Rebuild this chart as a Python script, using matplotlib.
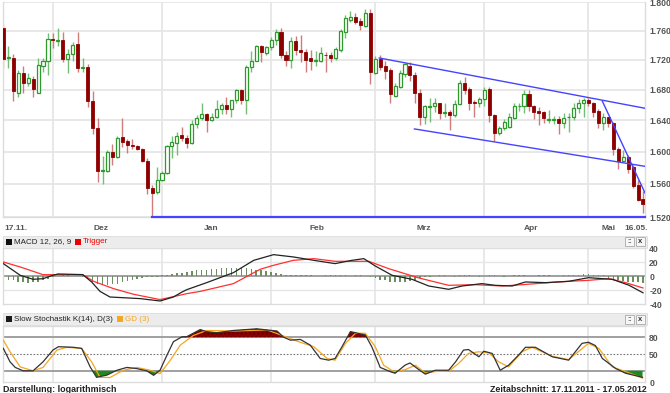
import numpy as np
import pandas as pd
import matplotlib
matplotlib.use("Agg")
import matplotlib.pyplot as plt
from matplotlib.patches import Rectangle
from matplotlib.ticker import FixedLocator, NullLocator, FixedFormatter

plt.rcParams["font.family"] = ["Liberation Sans", "DejaVu Sans"]

# daily candles, 17.11.2011 - 16.05.2012 (weekdays only)
dates = pd.bdate_range("2011-11-17", "2012-05-16")

opens = [1.763, 1.722, 1.723, 1.676, 1.702, 1.689, 1.694, 1.676, 1.712, 1.718,
         1.749, 1.746, 1.747, 1.721, 1.728, 1.741, 1.709, 1.710, 1.665, 1.630,
         1.576, 1.576, 1.600, 1.593, 1.619, 1.613, 1.608, 1.607, 1.603, 1.589,
         1.555, 1.550, 1.565, 1.573, 1.607, 1.611, 1.621, 1.617, 1.611, 1.635,
         1.643, 1.648, 1.640, 1.644, 1.655, 1.660, 1.655, 1.666, 1.679, 1.666,
         1.710, 1.719, 1.739, 1.729, 1.737, 1.747, 1.758, 1.726, 1.720, 1.745,
         1.734, 1.731, 1.722, 1.719, 1.719, 1.727, 1.727, 1.722, 1.734, 1.758,
         1.775, 1.779, 1.773, 1.767, 1.785, 1.702, 1.721, 1.711, 1.706, 1.672,
         1.684, 1.701, 1.712, 1.700, 1.676, 1.644, 1.657, 1.659, 1.662, 1.650,
         1.651, 1.647, 1.661, 1.689, 1.681, 1.664, 1.662, 1.668, 1.681, 1.647,
         1.624, 1.630, 1.631, 1.643, 1.658, 1.658, 1.675, 1.658, 1.652, 1.651,
         1.641, 1.641, 1.642, 1.637, 1.644, 1.644, 1.656, 1.663, 1.667, 1.662,
         1.652, 1.637, 1.644, 1.637, 1.604, 1.588, 1.594, 1.581, 1.559, 1.542]
highs = [1.769, 1.739, 1.728, 1.706, 1.711, 1.702, 1.698, 1.722, 1.723, 1.756,
         1.756, 1.764, 1.758, 1.735, 1.744, 1.758, 1.722, 1.715, 1.678, 1.643,
         1.595, 1.602, 1.610, 1.620, 1.643, 1.616, 1.616, 1.609, 1.605, 1.592,
         1.559, 1.581, 1.576, 1.609, 1.620, 1.625, 1.632, 1.621, 1.640, 1.647,
         1.662, 1.650, 1.650, 1.667, 1.663, 1.670, 1.667, 1.681, 1.681, 1.713,
         1.732, 1.740, 1.740, 1.739, 1.751, 1.762, 1.764, 1.732, 1.751, 1.752,
         1.754, 1.735, 1.734, 1.732, 1.738, 1.731, 1.731, 1.738, 1.762, 1.782,
         1.787, 1.784, 1.778, 1.790, 1.790, 1.725, 1.726, 1.719, 1.709, 1.689,
         1.706, 1.716, 1.717, 1.703, 1.681, 1.660, 1.669, 1.669, 1.663, 1.662,
         1.654, 1.667, 1.693, 1.697, 1.683, 1.667, 1.671, 1.683, 1.683, 1.648,
         1.633, 1.642, 1.649, 1.662, 1.662, 1.679, 1.680, 1.660, 1.657, 1.652,
         1.654, 1.646, 1.646, 1.649, 1.650, 1.662, 1.668, 1.669, 1.669, 1.664,
         1.655, 1.650, 1.645, 1.638, 1.606, 1.602, 1.596, 1.583, 1.565, 1.552]
lows = [1.709, 1.709, 1.665, 1.671, 1.676, 1.685, 1.670, 1.676, 1.703, 1.699,
        1.736, 1.739, 1.717, 1.702, 1.719, 1.703, 1.703, 1.657, 1.622, 1.562,
        1.560, 1.575, 1.583, 1.592, 1.606, 1.598, 1.604, 1.602, 1.587, 1.548,
        1.520, 1.548, 1.564, 1.572, 1.592, 1.596, 1.614, 1.605, 1.610, 1.630,
        1.641, 1.625, 1.639, 1.643, 1.648, 1.648, 1.645, 1.663, 1.661, 1.648,
        1.703, 1.718, 1.717, 1.726, 1.734, 1.740, 1.723, 1.711, 1.709, 1.726,
        1.717, 1.704, 1.706, 1.712, 1.717, 1.704, 1.717, 1.720, 1.730, 1.750,
        1.772, 1.769, 1.761, 1.765, 1.687, 1.701, 1.706, 1.694, 1.663, 1.670,
        1.682, 1.697, 1.691, 1.663, 1.634, 1.635, 1.638, 1.651, 1.642, 1.645,
        1.628, 1.645, 1.660, 1.675, 1.654, 1.645, 1.657, 1.659, 1.638, 1.613,
        1.621, 1.628, 1.630, 1.642, 1.652, 1.650, 1.652, 1.642, 1.634, 1.637,
        1.637, 1.635, 1.623, 1.630, 1.625, 1.641, 1.650, 1.644, 1.658, 1.645,
        1.630, 1.627, 1.631, 1.596, 1.579, 1.587, 1.573, 1.555, 1.539, 1.525]
closes = [1.721, 1.724, 1.678, 1.702, 1.689, 1.695, 1.681, 1.713, 1.719, 1.749,
          1.747, 1.747, 1.721, 1.728, 1.740, 1.709, 1.710, 1.665, 1.630, 1.576,
          1.577, 1.600, 1.593, 1.618, 1.612, 1.608, 1.607, 1.603, 1.589, 1.555,
          1.549, 1.565, 1.573, 1.607, 1.612, 1.620, 1.617, 1.611, 1.635, 1.643,
          1.648, 1.640, 1.644, 1.655, 1.660, 1.655, 1.666, 1.679, 1.666, 1.710,
          1.719, 1.739, 1.730, 1.737, 1.747, 1.758, 1.726, 1.720, 1.745, 1.733,
          1.730, 1.720, 1.718, 1.720, 1.729, 1.726, 1.722, 1.735, 1.759, 1.777,
          1.779, 1.772, 1.768, 1.785, 1.704, 1.721, 1.710, 1.705, 1.674, 1.685,
          1.702, 1.714, 1.700, 1.676, 1.644, 1.658, 1.659, 1.662, 1.650, 1.651,
          1.647, 1.661, 1.689, 1.680, 1.663, 1.662, 1.668, 1.679, 1.647, 1.624,
          1.630, 1.638, 1.644, 1.658, 1.659, 1.674, 1.658, 1.651, 1.650, 1.643,
          1.642, 1.642, 1.637, 1.643, 1.645, 1.656, 1.663, 1.667, 1.662, 1.651,
          1.637, 1.644, 1.637, 1.603, 1.589, 1.593, 1.579, 1.558, 1.541, 1.536]

# trend lines drawn in the chart: (index, price) pairs
channel_top = [(75.8, 1.7225), (129.4, 1.6557)]
channel_bottom = [(82.9, 1.629), (129.4, 1.5818)]
steep_line = [(120.8, 1.665), (129.4, 1.549)]
support = [(30, 1.52), (129.4, 1.52)]

price_ticks = [1.52, 1.56, 1.60, 1.64, 1.68, 1.72, 1.76, 1.80]
price_labels = ["1.520", "1.560", "1.600", "1.640", "1.680", "1.720", "1.760", "1.800"]
month_labels = ["17.11.", "Dez", "Jan", "Feb", "Mrz", "Apr", "Mai", "16.05."]
month_label_pos = [0.3, 19.7, 41.9, 63.3, 84.7, 106.5, 122.0, 127.6]

# MACD 12,26,9 (index, value)
macd_x = [0, 3.4, 6, 8, 10, 11, 16, 17.8, 19.5, 21.5, 27.6, 31.6, 34.3, 36, 37, 41,
          46.4, 50.5, 54.5, 58.5, 62.6, 66.9, 70.3, 72.7, 75, 78.4, 82.4, 85.8,
          89.8, 92.5, 96.5, 99.2, 102.6, 105.3, 109.3, 114, 118, 120.8, 122.8,
          126.2, 129]
macd_y = [17.7, 1, -4.7, -3.8, 1, 2.9, 2, -8.5, -22, -30, -32.3, -35.7, -30, -23,
          -19.5, -9.5, 4.8, 22.4, 30.5, 27.2, 22.4, 17.7, 22.4, 24.8, 14.3, 1,
          -4.7, -14.3, -19, -14.3, -10.9, -13.3, -14.3, -8.5, -9.5, -7.6, -2.4,
          -3.8, -4.7, -13.3, -24]
trig_x = [0, 3.4, 6, 8, 10, 16, 18.2, 22.2, 26.2, 31.6, 37, 39.7, 46.4, 51.8, 54.5,
          58.5, 62.6, 66.9, 73.7, 77.7, 83.8, 89.8, 95.2, 100.6, 104.6, 110, 114,
          118, 122.1, 125.5, 129]
trig_y = [20, 12.9, 6.7, 1.9, 1.9, 1.9, -7.6, -18, -26, -33.7, -25.2, -22, -10.9,
          9.6, 15.3, 22.4, 24.8, 21, 21, 10.5, -2.8, -13.3, -12.4, -14.3, -12.4,
          -9.5, -7.6, -6.2, -3.8, -9.5, -17.1]
macd_hist = [-3, -5, -6, -8, -9, -10, -9, -8, -6, -4,
             -1, 0, 1, 1, 0, 0, -1,
             -4, -8, -11, -13, -13, -12, -11, -9, -7, -6, -4, -3, -2, -2,
             -1, 1,
             2, 3, 4, 5, 6, 7, 8, 9, 9, 10, 10, 11, 11, 12, 12, 12, 11, 10, 9, 8, 7, 6, 4, 3, 2,
             2, 1, 1, 1, 1, 0, 0, 1, 1,
             1, 1, 1, 0, 1, 1, 0, -1,
             -3, -5, -6, -8, -9, -9, -8, -7, -5, -3,
             -2, -1, 0, 1, 1, 0, -1, 1, 2, 1, 0, -1, 0, 1, 1, 0, -1, 0, 1, 2, 1, 0, 0, 1, 1, 1, 0, 0, 1,
             1, 2, 2, 3, 3, 2, 1, 1,
             -3, -5, -6, -7, -8, -9, -9, -10]

# Slow Stochastik K(14), D(3) (index, value)
k_x = [0, 1.35, 2.4, 4, 6, 8, 10, 11.1, 14.1, 15.8, 17.5, 18.8, 20.9, 22.9, 24.9,
       26.9, 28.9, 30.3, 31.6, 33, 34.3, 36, 37, 39.7, 41, 43, 46.4, 51.1, 55.2,
       56.5, 57.9, 59.9, 61.9, 63.9, 65.6, 66.9, 68.3, 70, 71, 73, 74.3, 76, 78,
       79, 81, 82, 83.8, 85.1, 87.1, 89.8, 91.2, 92.8, 93.8, 95.9, 96.9, 98.6,
       100.2, 101.9, 103.9, 105.3, 107.3, 110.7, 114, 116.7, 118, 119.4, 120.8,
       123.5, 125.5, 128.9]
k_y = [60, 36, 26, 20, 20, 36, 57, 63, 62, 60, 27, 8.3, 12.4, 21, 26, 24, 20, 12,
       21, 48, 72, 80.6, 81, 93.6, 90, 88, 92, 95, 91, 80, 74.7, 76, 65.8, 42, 39,
       42, 63, 90, 88, 84, 63, 26, 18.6, 15.6, 30, 34, 22, 14, 21, 21, 36, 57, 58,
       45, 55, 51, 21, 30, 48, 62, 62, 45, 39, 69, 71, 65, 42, 24, 15.6, 8.3]
d_x = [0, 1.35, 3.4, 6, 8, 10.8, 12.8, 15.8, 17.8, 19.5, 21.5, 24.2, 26.9, 29.6,
       31.6, 33.6, 35.7, 38.3, 41, 46.4, 53.2, 57.2, 59.2, 62.6, 65.3, 66.9, 69,
       71, 73, 75, 76.7, 78.7, 81, 83.1, 85.1, 87.1, 90.1, 91.8, 93.8, 95.9,
       97.9, 99.9, 101.9, 104.6, 106.6, 110.7, 114, 118, 120.1, 122.8, 125.5,
       128.9]
d_y = [74.7, 54, 27, 20, 26, 57, 62, 60, 36, 8.3, 8, 21, 26, 21, 15, 38, 66, 83,
       92, 91, 93, 80, 73, 63, 42, 39, 69, 87, 87, 63, 30, 18.6, 22, 30, 16, 18.6,
       21, 33, 51, 54, 52, 36, 27, 54, 62, 46, 40, 69, 60, 27, 18.6, 7]

opens, highs, lows, closes = map(np.array, (opens, highs, lows, closes))
x = np.arange(len(closes))
month_starts = [i for i in range(1, len(dates)) if dates[i].month != dates[i - 1].month]
xlim = (-0.07, 129.4)

fig = plt.figure(figsize=(6.7, 3.93), dpi=100)
W, H = 670.0, 393.0

def box(left, top, right, bottom):
    return [left / W, 1 - bottom / H, (right - left) / W, (bottom - top) / H]

grid_c = "#e6e6e6"
lab_c = "#555555"
lab_fs = 6.2

def right_labels(a, ticks, labels):
    a.yaxis.tick_right()
    a.yaxis.set_major_locator(FixedLocator(ticks))
    a.yaxis.set_major_formatter(FixedFormatter(labels))
    a.yaxis.set_minor_locator(NullLocator())
    a.tick_params(axis="y", length=0, pad=3, labelsize=lab_fs, labelcolor=lab_c)
    for t in a.get_yticklabels():
        t.set_fontweight("bold")
    a.set_xticks([])
    for s in a.spines.values():
        s.set_color("#dcdcdc")
        s.set_linewidth(1.0)

# ---------------- main candle chart ----------------
ax = fig.add_axes(box(3, 2, 645, 217))
ax.set_yscale("log")
ax.set_ylim(1.52, 1.80)
ax.set_xlim(*xlim)
for p in price_ticks:
    ax.axhline(p, color=grid_c, lw=1.3, zorder=0)
for m in month_starts:
    ax.axvline(m, color=grid_c, lw=1.3, zorder=0)

up = closes >= opens
dn = ~up
ax.vlines(x[up], lows[up], highs[up], color="#74bd74", lw=1.0, zorder=2)
ax.vlines(x[dn], lows[dn], highs[dn], color="#cf7c7c", lw=1.0, zorder=2)
body_lo = np.minimum(opens, closes)
body_h = np.maximum(np.abs(closes - opens), 0.0009)
ax.bar(x[up], body_h[up], bottom=body_lo[up], width=0.62, facecolor="white",
       edgecolor="#2e9a2e", lw=0.9, zorder=3)
ax.bar(x[dn], body_h[dn], bottom=body_lo[dn], width=0.62, facecolor="#8e0000",
       edgecolor="#8e0000", lw=0.6, zorder=3)

for ln in (channel_top, channel_bottom, steep_line):
    ax.plot([p[0] for p in ln], [p[1] for p in ln], color="#4444ff", lw=1.0, zorder=4)
ax.plot([p[0] for p in support], [p[1] for p in support], color="#4444ff", lw=1.6,
        zorder=4, clip_on=False)

right_labels(ax, price_ticks, price_labels)
ax.spines["top"].set_visible(False)

for lbl, pos in zip(month_labels, month_label_pos):
    ha = "left" if lbl == "17.11." else "center"
    ax.text(pos, -0.035, lbl, transform=ax.get_xaxis_transform(), ha=ha, va="top",
            fontsize=6.0, fontweight="bold", color=lab_c)

# ---------------- panel headers ----------------
def header(top, items):
    fig.add_artist(Rectangle((3 / W, 1 - (top + 12) / H), 644 / W, 12 / H,
                             transform=fig.transFigure, facecolor="#ececec",
                             edgecolor="#dddddd", lw=0.6))
    for sq_x, sq, txt, col in items:
        fig.add_artist(Rectangle((sq_x / W, 1 - (top + 9.3) / H), 6 / W, 6 / H,
                                 transform=fig.transFigure, facecolor=sq,
                                 edgecolor="none"))
        fig.text((sq_x + 8) / W, 1 - (top + 6.3) / H, txt, fontsize=5.8, color=col,
                 va="center", ha="left")
    for ix in (625, 636):
        fig.add_artist(Rectangle((ix / W, 1 - (top + 10.5) / H), 9 / W, 9 / H,
                                 transform=fig.transFigure, facecolor="#f6f6f6",
                                 edgecolor="#aaaaaa", lw=0.6))
    fig.text(629.5 / W, 1 - (top + 6.2) / H, "::", fontsize=5, ha="center",
             va="center", color="#333333", fontweight="bold")
    fig.text(640.5 / W, 1 - (top + 6.2) / H, "x", fontsize=5.5, ha="center",
             va="center", color="#333333", fontweight="bold")

header(235.5, [(6, "#111111", "MACD 12, 26, 9", "#222222"),
               (75, "#ee0000", "Trigger", "#ee0000")])
header(313, [(6, "#1a1a1a", "Slow Stochastik K(14), D(3)", "#222222"),
             (117, "#f5a623", "GD (3)", "#f5a623")])

# ---------------- MACD panel ----------------
am = fig.add_axes(box(3, 248, 645, 304))
am.set_xlim(*xlim)
am.set_ylim(-40, 40)
for m in month_starts:
    am.axvline(m, color=grid_c, lw=1.3, zorder=0)
for v in (20, -20):
    am.axhline(v, color=grid_c, lw=1.0, zorder=0)
am.axhline(0, color="#a0a0a0", lw=1.4, zorder=1)
am.bar(x, macd_hist, width=0.3, color="#6b8f5e", zorder=2)
am.plot(trig_x, trig_y, color="#ff3030", lw=0.9, zorder=3)
am.plot(macd_x, macd_y, color="#222222", lw=0.9, zorder=4)
right_labels(am, [40, 20, 0, -20, -40], ["40", "20", "0", "-20", "-40"])

# ---------------- stochastic panel ----------------
st = fig.add_axes(box(3, 326, 645, 382))
st.set_xlim(*xlim)
st.set_ylim(0, 100)
for m in month_starts:
    st.axvline(m, color=grid_c, lw=1.3, zorder=0)
st.axhline(80, color="#a0a0a0", lw=1.4, zorder=1)
st.axhline(20, color="#a0a0a0", lw=1.4, zorder=1)
st.axhline(50, color="#777777", lw=0.8, ls=(0, (1.5, 1.5)), zorder=1)
kx, ky = np.array(k_x), np.array(k_y)
st.fill_between(kx, ky, 80, where=ky > 80, interpolate=True, facecolor="#8b0000",
                edgecolor="#5a0000", hatch="....", lw=0, zorder=2)
st.fill_between(kx, ky, 20, where=ky < 20, interpolate=True, facecolor="#1e8a1e",
                lw=0, zorder=2)
st.plot(d_x, d_y, color="#f5a623", lw=0.9, zorder=3)
st.plot(k_x, k_y, color="#333333", lw=0.9, zorder=4)
right_labels(st, [80, 50, 0], ["80", "50", "0"])

fig.text(3 / W, 1 - 389 / H, "Darstellung: logarithmisch", fontsize=6.4,
         fontweight="bold", color="#222222", va="center", ha="left")
fig.text(647 / W, 1 - 389 / H, "Zeitabschnitt: 17.11.2011 - 17.05.2012", fontsize=6.4,
         fontweight="bold", color="#222222", va="center", ha="right")

fig.savefig("out.png", dpi=100)
